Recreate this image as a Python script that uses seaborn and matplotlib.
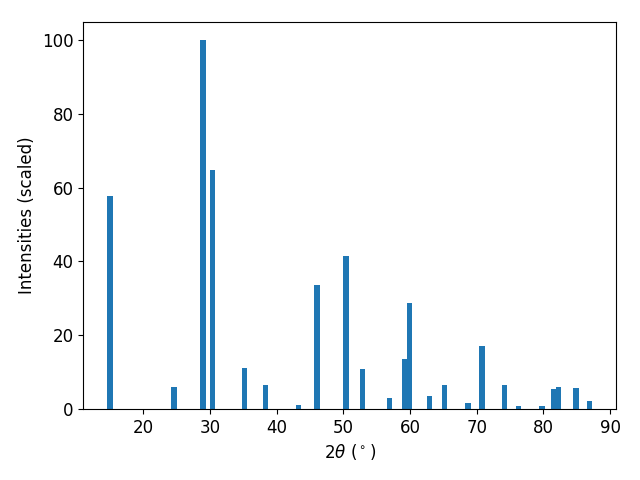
import matplotlib
matplotlib.use('Agg')
import matplotlib.pyplot as plt
import numpy as np
import seaborn as sns

# peak positions (2theta, degrees) and scaled intensities
two_theta = [15.05, 24.65, 29.0, 30.35, 35.2, 38.3, 43.3, 46.07, 50.4, 52.9,
             56.9, 59.2, 59.9, 62.9, 65.2, 68.7, 70.8, 74.2, 76.3, 79.8,
             81.6, 82.3, 84.9, 86.9]
intensity = [57.7, 6.0, 100.0, 64.8, 11.1, 6.5, 1.1, 33.6, 41.5, 10.8,
             3.0, 13.5, 28.7, 3.5, 6.5, 1.6, 17.1, 6.5, 0.8, 0.8,
             5.4, 6.0, 5.7, 2.2]

plt.rcParams['font.size'] = 12
color = sns.color_palette('tab10')[0]

fig, ax = plt.subplots(figsize=(6.4, 4.8), dpi=100)
ax.bar(two_theta, intensity, width=0.8, color=color)
ax.set_xlabel(r'$2\theta$ ($^\circ$)')
ax.set_ylabel('Intensities (scaled)')
fig.subplots_adjust(left=0.13, right=0.963, bottom=0.148, top=0.955)
fig.savefig('out.png', dpi=100)
